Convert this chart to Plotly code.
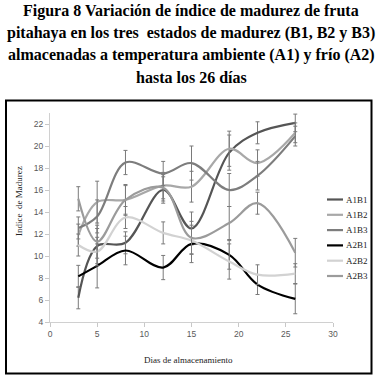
import plotly.graph_objects as go

days = [3, 5, 8, 12, 15, 19, 22, 26]

A1B1 = [6.2, 10.9, 11.2, 16.0, 12.5, 19.4, 21.2, 22.1]
A1B2 = [11.9, 14.9, 15.1, 16.4, 16.3, 19.75, 18.45, 21.2]
A1B3 = [12.55, 13.6, 18.5, 17.5, 18.45, 16.0, 17.3, 20.9]
A2B1 = [8.15, 9.1, 10.5, 8.95, 11.1, 10.1, 7.4, 6.1]
A2B2 = [11.0, 10.4, 13.5, 12.1, 11.4, 9.5, 8.3, 8.4]
A2B3 = [15.2, 11.3, 15.1, 16.2, 11.65, 13.0, 14.8, 10.3]

E_A1B1 = [1.0, 1.6, 1.0, 1.2, 1.5, 1.6, 1.0, 0.8]
E_A1B2 = [1.0, 1.9, 1.4, 1.2, 1.4, 1.6, 1.2, 0.9]
E_A1B3 = [1.0, 1.5, 1.1, 1.1, 1.55, 1.5, 1.3, 0.9]
E_A2B1 = [1.0, 2.0, 1.3, 1.1, 1.7, 1.3, 0.9, 1.35]
E_A2B2 = [1.0, 1.3, 1.0, 1.0, 1.2, 1.6, 0.9, 0.9]
E_A2B3 = [1.1, 1.5, 1.3, 1.2, 1.5, 1.5, 1.0, 1.3]

series_names = ["A1B1", "A1B2", "A1B3", "A2B1", "A2B2", "A2B3"]
series_vals = [A1B1, A1B2, A1B3, A2B1, A2B2, A2B3]
series_errs = [E_A1B1, E_A1B2, E_A1B3, E_A2B1, E_A2B2, E_A2B3]
series_colors = ["#555555", "#a8a8a8", "#7d7d7d", "#000000", "#d2d2d2", "#9b9b9b"]

title_lines = [
    "Figura 8 Variación de índice de madurez de fruta",
    "pitahaya en los tres  estados de madurez (B1, B2 y B3)",
    "almacenadas a temperatura ambiente (A1) y frío (A2)",
    "hasta los 26 días",
]
x_title = "Dias de almacenamiento"
y_title = "Indice  de Madurez"

W, H = 387, 380
L, R, T, B = 50, 54, 113, 58
PW, PH = W - L - R, H - T - B


def px_x(p):
    return (p - L) / PW


def px_y(p):
    return (H - B - p) / PH


fig = go.Figure()
for name, vals, errs, col in zip(series_names, series_vals, series_errs, series_colors):
    fig.add_trace(go.Scatter(
        x=days, y=vals, name=name, mode="lines", showlegend=False,
        hoverinfo="skip",
        line=dict(color=col, width=2.2, shape="spline", smoothing=1.0),
        error_y=dict(type="data", array=errs, visible=True,
                     color="#7a7a7a", thickness=1, width=2),
    ))

annotations = []
shapes = []
for i, t in enumerate(title_lines):
    annotations.append(dict(
        text="<b>%s</b>" % t, x=px_x(191), xref="paper", xanchor="center",
        y=px_y(11 + 22.2 * i), yref="paper", yanchor="middle",
        showarrow=False,
        font=dict(family="Liberation Serif", size=16, color="#000000"),
    ))

annotations.append(dict(
    text=x_title, x=px_x(188), xref="paper", xanchor="center",
    y=px_y(360), yref="paper", yanchor="middle", showarrow=False,
    font=dict(family="Liberation Serif", size=9, color="#222222"),
))
annotations.append(dict(
    text=y_title, x=px_x(19), xref="paper", xanchor="center",
    y=px_y(201), yref="paper", yanchor="middle", showarrow=False, textangle=-90,
    font=dict(family="Liberation Serif", size=9, color="#222222"),
))

# legend (drawn as decoration)
for i, (name, col) in enumerate(zip(series_names, series_colors)):
    ly = px_y(199.5 + 15.3 * i)
    shapes.append(dict(type="line", xref="paper", yref="paper",
                       x0=px_x(327), x1=px_x(343), y0=ly, y1=ly,
                       line=dict(color=col, width=2.2)))
    annotations.append(dict(
        text=name, x=px_x(344), xref="paper", xanchor="left",
        y=ly, yref="paper", yanchor="middle", showarrow=False,
        font=dict(family="Liberation Serif", size=9, color="#222222"),
    ))

shapes.append(dict(type="rect", xref="paper", yref="paper",
                   x0=px_x(6), x1=px_x(371.5), y0=px_y(373.5), y1=px_y(100.5),
                   line=dict(color="#000000", width=2), fillcolor="rgba(0,0,0,0)"))

axis_common = dict(
    showline=True, linecolor="#d0d0d0", linewidth=1,
    ticks="outside", ticklen=4, tickcolor="#c8c8c8", tickwidth=1,
    showgrid=False, zeroline=False,
    tickfont=dict(family="Liberation Sans", size=8.5, color="#595959"),
)

fig.update_layout(
    width=W, height=H,
    margin=dict(l=L, r=R, t=T, b=B, autoexpand=False),
    paper_bgcolor="#ffffff", plot_bgcolor="#ffffff",
    xaxis=dict(range=[0, 30], dtick=5, tick0=0, fixedrange=True, **axis_common),
    yaxis=dict(range=[4, 23], dtick=2, tick0=4, fixedrange=True, **axis_common),
    annotations=annotations, shapes=shapes,
    showlegend=False, hovermode=False,
)

fig.write_html("out.html", config={"displayModeBar": False, "staticPlot": True},
               post_script="document.body.style.margin='0';")
